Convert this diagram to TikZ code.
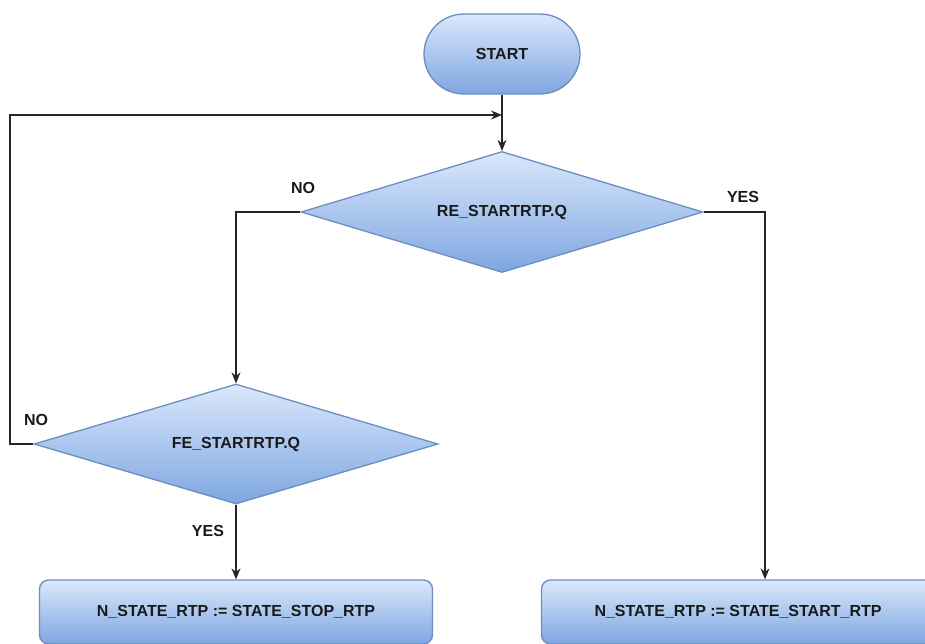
\documentclass[tikz,border=0pt]{standalone}
\usepackage{fontspec}
\setmainfont{Liberation Sans}
\usetikzlibrary{shapes.geometric,arrows.meta}
\definecolor{fillTop}{HTML}{DAE8FC}
\definecolor{fillBot}{HTML}{7EA6E0}
\definecolor{strokeC}{HTML}{6C8EBF}
\definecolor{lineC}{HTML}{262626}
\definecolor{txtC}{HTML}{1A1A1A}
\begin{document}
\begin{tikzpicture}[x=1pt,y=-1pt,
  font=\fontsize{16}{19}\selectfont\bfseries,
  shape base/.style={draw=strokeC, line width=1.3pt, top color=fillTop, bottom color=fillBot, text=txtC, inner sep=0pt},
  term/.style={shape base, rectangle, rounded corners=40pt, minimum width=156pt, minimum height=80pt},
  decision/.style={shape base, diamond, shape aspect=3.32},
  procbox/.style={shape base, rectangle, rounded corners=9pt, minimum width=393pt, minimum height=64pt},
  flow/.style={draw=lineC, line width=1.2pt, -{Stealth[length=11pt,width=9pt]}},
  lbl/.style={text=txtC, inner sep=0pt}
]
\useasboundingbox (0,0) rectangle (925,643);
\node[term] (start) at (502,54) {START};
\node[decision, minimum width=402pt, minimum height=121pt] (d1) at (502,212) {RE\_STARTRTP.Q};
\node[decision, minimum width=404pt, minimum height=120pt] (d2) at (236,444) {FE\_STARTRTP.Q};
\node[procbox] (stop) at (236,612) {N\_STATE\_RTP := STATE\_STOP\_RTP};
\node[procbox] (go) at (738,612) {N\_STATE\_RTP := STATE\_START\_RTP};
\coordinate (join) at (502,115);
\coordinate (loopL) at (10,444);

\draw[flow] (start.south) -- (d1.north);
\draw[flow] (d1.east) -| (go.north -| 765,0);
\draw[flow] (d1.west) -| (d2.north);
\draw[flow] (d2.south) -- (stop.north -| d2.south);
\draw[flow] (d2.west) -- (loopL) |- (join);

\node[lbl] (no1) at (303,188) {NO};
\node[lbl] (yes1) at (743,197) {YES};
\node[lbl] (no2) at (36,420) {NO};
\node[lbl] (yes2) at (208,531) {YES};
\end{tikzpicture}
\end{document}
